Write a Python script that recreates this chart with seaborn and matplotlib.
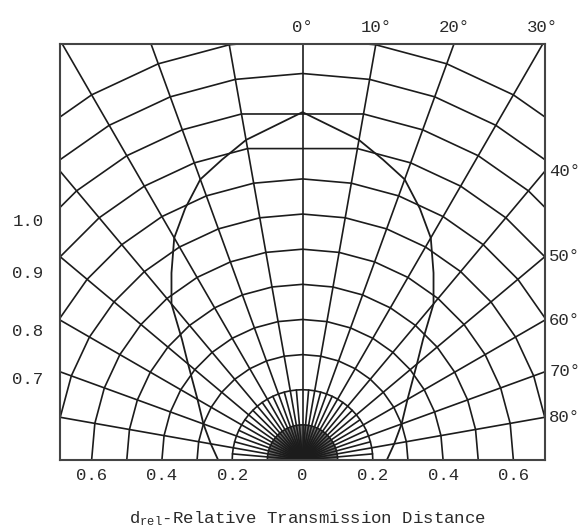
import numpy as np
import pandas as pd
import matplotlib
matplotlib.use("Agg")
import matplotlib.pyplot as plt
import seaborn as sns

# ---------------- data ----------------
# radiation pattern: relative transmission distance vs. angle (symmetric)
pattern_angles = [0, 10, 15, 20, 25, 30, 35, 40, 45, 50, 60, 70, 80, 90]
pattern_dist = [0.99, 0.925, 0.885, 0.85, 0.79, 0.73, 0.65, 0.58, 0.485, 0.425,
                0.345, 0.30, 0.265, 0.24]

# grid definition
ring_levels = [0.1, 0.2, 0.3, 0.4, 0.5, 0.6, 0.7, 0.8, 0.9, 1.0, 1.1, 1.2]
flat_top_rings = [0.9, 1.0]
major_radials = list(range(-90, 91, 10))
minor_radials = list(range(-85, 86, 10))
fan_radials = list(range(-90, 91, 1))

top_angles = [0, 10, 20, 30]
top_labels = ["0°", "10°", "20°", "30°"]
right_angles = [40, 50, 60, 70, 80]
right_labels = ["40°", "50°", "60°", "70°", "80°"]
x_ticks = [-0.6, -0.4, -0.2, 0, 0.2, 0.4, 0.6]
x_tick_labels = ["0.6", "0.4", "0.2", "0", "0.2", "0.4", "0.6"]
left_labels = ["1.0", "0.9", "0.8", "0.7"]

# ---------------- style ----------------
sns.set_style("white")
plt.rcParams["font.family"] = ["Liberation Mono", "DejaVu Sans"]
plt.rcParams["mathtext.fontset"] = "custom"
plt.rcParams["mathtext.rm"] = "Liberation Mono"
plt.rcParams["mathtext.it"] = "Liberation Mono"

LINE = "#1c1c1c"
TEXT = "#2a2a2a"
FS = 12.5
LW = 1.2

XMAX = 0.69
YMAX = 1.184
left_label_pos = [0.683, 0.535, 0.37, 0.233]

fig = plt.figure(figsize=(5.83, 5.29), dpi=100)
ax = fig.add_axes([60 / 583, 69 / 529, 485 / 583, 416 / 529])


def polar_xy(angles_deg, r):
    a = np.radians(np.asarray(angles_deg, dtype=float))
    r = np.asarray(r, dtype=float)
    return r * np.sin(a), r * np.cos(a)


# fan of fine radials near origin
for a in fan_radials:
    x, y = polar_xy([a, a], [0, 0.1])
    ax.plot(x, y, color=LINE, lw=0.45, alpha=0.7)

# 5-degree radials in the inner zone
for a in minor_radials:
    x, y = polar_xy([a, a], [0, 0.2])
    ax.plot(x, y, color=LINE, lw=LW)

# 10-degree radials across the whole frame
for a in major_radials:
    x, y = polar_xy([a, a], [0, 2.0])
    ax.plot(x, y, color=LINE, lw=LW)

# polygonal distance rings
for lvl in ring_levels:
    step = 5 if lvl <= 0.2 else 10
    angs = list(range(-90, 91, step))
    if lvl in flat_top_rings:
        angs = [a for a in angs if a != 0]
    x, y = polar_xy(angs, [lvl] * len(angs))
    ax.plot(x, y, color=LINE, lw=LW)

# radiation pattern curve
right_a = np.array(pattern_angles, dtype=float)
right_d = np.array(pattern_dist, dtype=float)
full_a = np.concatenate([-right_a[::-1], right_a[1:]])
full_d = np.concatenate([right_d[::-1], right_d[1:]])
px, py = polar_xy(full_a, full_d)
df = pd.DataFrame({"x": px, "y": py, "order": np.arange(len(px))})
sns.lineplot(data=df, x="x", y="y", sort=False, estimator=None, color=LINE,
             lw=LW + 0.1, ax=ax)

ax.set_xlim(-XMAX, XMAX)
ax.set_ylim(0, YMAX)
ax.set_xlabel("")
ax.set_ylabel("")

for s in ax.spines.values():
    s.set_visible(True)
    s.set_color("#444444")
    s.set_linewidth(1.5)

ax.set_xticks(x_ticks)
ax.set_xticklabels(x_tick_labels)
ax.set_yticks(left_label_pos)
ax.set_yticklabels(left_labels)
ax.tick_params(axis="x", length=0, pad=6, labelsize=FS, colors=TEXT)
ax.tick_params(axis="y", length=0, pad=12, labelsize=FS, colors=TEXT)

for a, lab in zip(top_angles, top_labels):
    ax.annotate(lab, xy=(YMAX * np.tan(np.radians(a)), YMAX),
                xytext=(0, 12), textcoords="offset points",
                ha="center", va="center", fontsize=FS, color=TEXT,
                annotation_clip=False)

for a, lab in zip(right_angles, right_labels):
    ax.annotate(lab, xy=(XMAX, XMAX / np.tan(np.radians(a))),
                xytext=(3, 0), textcoords="offset points",
                ha="left", va="center", fontsize=FS, color=TEXT,
                annotation_clip=False)

fig.text(307 / 583, 1 - 519 / 529,
         r"d$_{\mathrm{rel}}$-Relative Transmission Distance",
         ha="center", va="center", fontsize=FS, color=TEXT)

fig.savefig("out.png", dpi=100, facecolor="white")
